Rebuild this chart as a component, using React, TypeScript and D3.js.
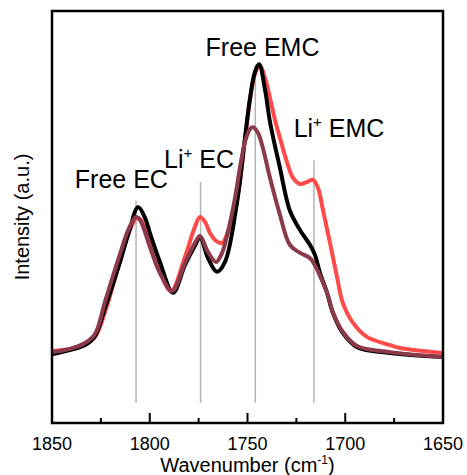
import React from "react";
import * as d3 from "d3";

// ---- data (wavenumber in cm^-1, intensity in arbitrary units) ----
const blackWn = [1850, 1840.8, 1833.1, 1828.0, 1822.9, 1815.7, 1810.6, 1806.0, 1802.4, 1799.9, 1794.8, 1788.1, 1782.0, 1776.9, 1774.3, 1770.2, 1765.6, 1761.5, 1755.4, 1751.3, 1748.7, 1746.2, 1744.1, 1741.0, 1738.5, 1733.4, 1728.3, 1723.1, 1718.0, 1715.5, 1712.9, 1709.3, 1706.3, 1701.2, 1694.0, 1677.1, 1650];
const blackI = [16.7, 17.7, 18.9, 21.1, 27.9, 38.3, 46.4, 52.4, 49.8, 46.1, 39.1, 31.6, 38.3, 43.0, 45.1, 40.0, 36.7, 39.1, 53.4, 69.2, 78.9, 85.2, 87.1, 80.8, 73.1, 61.9, 51.5, 46.8, 43.2, 40.8, 36.4, 31.6, 26.7, 21.8, 18.4, 17.0, 16.0];

const maroonWn = [1850, 1840.8, 1833.1, 1828.0, 1822.9, 1815.7, 1810.6, 1807.0, 1805.0, 1799.9, 1794.8, 1788.6, 1782.0, 1776.9, 1774.3, 1770.2, 1766.1, 1763.0, 1760.0, 1756.4, 1753.8, 1751.3, 1748.7, 1747.2, 1744.6, 1742.1, 1738.5, 1733.4, 1728.3, 1723.1, 1718.0, 1715.5, 1712.9, 1709.3, 1706.3, 1701.2, 1694.0, 1677.1, 1650];
const maroonI = [17.2, 18.0, 19.4, 21.6, 29.4, 40.3, 47.3, 50.0, 49.3, 42.7, 36.4, 32.0, 38.8, 43.7, 45.4, 41.5, 39.1, 41.3, 46.4, 54.6, 62.1, 68.2, 71.4, 71.8, 70.4, 66.7, 59.5, 50.5, 43.2, 41.3, 40.0, 38.3, 35.7, 31.6, 26.9, 22.1, 18.7, 17.2, 16.0];

const redWn = [1850, 1840.8, 1833.1, 1828.0, 1822.9, 1815.7, 1810.6, 1806.5, 1804.5, 1799.9, 1794.8, 1789.1, 1782.0, 1776.9, 1774.3, 1771.7, 1769.2, 1766.1, 1763.0, 1760.0, 1755.4, 1751.3, 1748.7, 1746.2, 1743.6, 1741.0, 1738.5, 1735.9, 1733.4, 1729.8, 1726.7, 1723.1, 1719.6, 1716.5, 1713.9, 1711.4, 1707.8, 1704.2, 1701.2, 1696.0, 1688.9, 1677.1, 1672.0, 1650];
const redI = [17.5, 18.0, 19.2, 20.9, 26.9, 38.6, 46.4, 49.8, 49.3, 43.4, 36.9, 32.0, 40.3, 47.6, 50.0, 48.8, 46.1, 44.2, 43.7, 46.4, 54.1, 68.7, 78.4, 84.7, 86.7, 83.7, 78.9, 73.5, 69.2, 63.3, 59.5, 58.0, 58.5, 59.0, 57.0, 51.7, 43.7, 35.4, 29.1, 24.3, 20.9, 18.9, 18.2, 17.0];

const markerWn = [1807, 1774, 1746, 1716];
const markerTop = [54, 58.5, 87, 63.8];
const markerBottom = 4.9;

const xTicksMajor = [1850, 1800, 1750, 1700, 1650];
const xTicksMinor = [1825, 1775, 1725, 1675];

const labelMain = ["Free EC", "Li", "Free EMC", "Li"];
const labelSup = ["", "+", "", "+"];
const labelTail = ["", " EC", "", " EMC"];
const labelWn = [1814.5, 1774.8, 1742.3, 1703.2];
const labelI = [57.0, 61.9, 89.1, 69.4];

const W = 467;
const H = 475;
const M = { left: 52, right: 443, top: 11, bottom: 423 };
const FONT = "Arial, 'Liberation Sans', sans-serif";

export default function App() {
  const x = d3.scaleLinear().domain([1850, 1650]).range([M.left, M.right]);
  const y = d3.scaleLinear().domain([0, 100]).range([M.bottom, M.top]);
  const line = d3
    .line<[number, number]>()
    .x((d) => x(d[0]))
    .y((d) => y(d[1]))
    .curve(d3.curveCatmullRom.alpha(0.5));

  const series = [
    { wn: redWn, v: redI, color: "#ff4a4a" },
    { wn: blackWn, v: blackI, color: "#000000" },
    { wn: maroonWn, v: maroonI, color: "#8a3a4a" },
  ];

  return (
    <svg
      width={W}
      height={H}
      style={{ position: "absolute", left: 0, top: 0, background: "#fff" }}
      fontFamily={FONT}
    >
      <rect x={0} y={0} width={W} height={H} fill="#fff" />
      {markerWn.map((w, i) => (
        <line
          key={"m" + i}
          x1={x(w)}
          x2={x(w)}
          y1={y(markerBottom)}
          y2={y(markerTop[i])}
          stroke="#b4b4b4"
          strokeWidth={1.5}
        />
      ))}
      {series.map((s, i) => (
        <path
          key={"s" + i}
          d={line(s.wn.map((w, j) => [w, s.v[j]] as [number, number])) || ""}
          fill="none"
          stroke={s.color}
          strokeWidth={4}
          strokeLinejoin="round"
        />
      ))}
      {labelMain.map((t, i) => (
        <text
          key={"l" + i}
          x={x(labelWn[i])}
          y={y(labelI[i])}
          textAnchor="middle"
          fontSize={25}
          fill="#000"
        >
          {t}
          {labelSup[i] ? (
            <tspan fontSize={15} dy={-10}>
              {labelSup[i]}
            </tspan>
          ) : null}
          {labelTail[i] ? <tspan dy={labelSup[i] ? 10 : 0}>{labelTail[i]}</tspan> : null}
        </text>
      ))}
      <rect
        x={M.left}
        y={M.top}
        width={M.right - M.left}
        height={M.bottom - M.top}
        fill="none"
        stroke="#000"
        strokeWidth={2.5}
      />
      {xTicksMajor.map((t) => (
        <g key={"t" + t}>
          <line x1={x(t)} x2={x(t)} y1={M.bottom} y2={M.bottom - 10} stroke="#000" strokeWidth={2} />
          <text x={x(t)} y={450} textAnchor="middle" fontSize={18} fill="#000">
            {t}
          </text>
        </g>
      ))}
      {xTicksMinor.map((t) => (
        <line key={"n" + t} x1={x(t)} x2={x(t)} y1={M.bottom} y2={M.bottom - 5} stroke="#000" strokeWidth={2} />
      ))}
      <text x={(M.left + M.right) / 2} y={472} textAnchor="middle" fontSize={20} fill="#000">
        Wavenumber (cm
        <tspan fontSize={12} dy={-8}>
          -1
        </tspan>
        <tspan dy={8}>)</tspan>
      </text>
      <text
        transform={`translate(28.5,${(M.top + M.bottom) / 2}) rotate(-90)`}
        textAnchor="middle"
        fontSize={20}
        fill="#000"
      >
        Intensity (a.u.)
      </text>
    </svg>
  );
}
